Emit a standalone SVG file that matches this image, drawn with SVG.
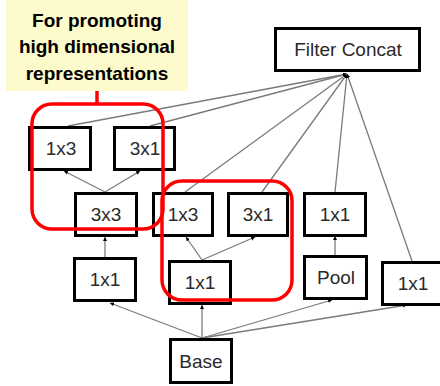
<svg xmlns="http://www.w3.org/2000/svg" width="440" height="386" viewBox="0 0 440 386">
<defs>
<marker id="ah" markerUnits="userSpaceOnUse" markerWidth="5" markerHeight="5" refX="4" refY="2" orient="auto">
<path d="M0,0 L4,2 L0,4 z" fill="#000"/>
</marker>
<style>
.box{fill:#fff;stroke:#000;stroke-width:3}
.lbl{font-family:"Liberation Sans",Arial,sans-serif;font-size:19px;fill:#2a2a2a;text-anchor:middle}
.edge{stroke:#7a7a7a;stroke-width:1.3;fill:none;marker-end:url(#ah)}
.hl{fill:none;stroke:#ff0000;stroke-width:3.5}
.note{font-family:"Liberation Sans",Arial,sans-serif;font-size:19px;font-weight:bold;fill:#000;text-anchor:middle}
</style>
</defs>
<rect width="440" height="386" fill="#fff"/>
<g id="connectors">
<line class="edge" x1="202" y1="338" x2="110" y2="303"/>
<line class="edge" x1="202" y1="338" x2="202" y2="305"/>
<line class="edge" x1="202" y1="338" x2="332" y2="300"/>
<line class="edge" x1="202" y1="338" x2="407" y2="305"/>
<line class="edge" x1="105" y1="257" x2="105" y2="237"/>
<line class="edge" x1="105" y1="192" x2="64" y2="171"/>
<line class="edge" x1="105" y1="192" x2="140" y2="171"/>
<line class="edge" x1="202" y1="260" x2="186" y2="237"/>
<line class="edge" x1="202" y1="260" x2="255" y2="237"/>
<line class="edge" x1="335" y1="255" x2="335" y2="236"/>
<line class="edge" x1="68" y1="126" x2="347" y2="74"/>
<line class="edge" x1="150" y1="126" x2="347" y2="74"/>
<line class="edge" x1="185" y1="192" x2="347" y2="74"/>
<line class="edge" x1="262" y1="192" x2="347" y2="74"/>
<line class="edge" x1="335" y1="192" x2="347" y2="74"/>
<line class="edge" x1="412" y1="261" x2="347" y2="74"/>
</g>
<g id="filter-concat"><rect class="box" x="275.5" y="28.5" width="144" height="42"/><text class="lbl" x="348" y="56">Filter Concat</text></g>
<g id="n-1x3-a"><rect class="box" x="29.5" y="127.5" width="61" height="42"/><text class="lbl" x="61" y="155">1x3</text></g>
<g id="n-3x1-a"><rect class="box" x="114.5" y="127.5" width="60" height="42"/><text class="lbl" x="145" y="155">3x1</text></g>
<g id="n-3x3"><rect class="box" x="75.5" y="193.5" width="61" height="42"/><text class="lbl" x="106" y="221">3x3</text></g>
<g id="n-1x3-b"><rect class="box" x="153.5" y="193.5" width="59" height="42"/><text class="lbl" x="183" y="221">1x3</text></g>
<g id="n-3x1-b"><rect class="box" x="228.5" y="193.5" width="59" height="42"/><text class="lbl" x="258" y="221">3x1</text></g>
<g id="n-1x1-top"><rect class="box" x="304.5" y="193.5" width="61" height="42"/><text class="lbl" x="335" y="221">1x1</text></g>
<g id="n-1x1-left"><rect class="box" x="74.5" y="258.5" width="61" height="42"/><text class="lbl" x="105" y="286">1x1</text></g>
<g id="n-1x1-mid"><rect class="box" x="169.5" y="261.5" width="61" height="42"/><text class="lbl" x="200" y="289">1x1</text></g>
<g id="n-pool"><rect class="box" x="304.5" y="256.5" width="62" height="42"/><text class="lbl" x="336" y="284">Pool</text></g>
<g id="n-1x1-right"><rect class="box" x="382.5" y="262.5" width="64" height="42"/><text class="lbl" x="413" y="290">1x1</text></g>
<g id="n-base"><rect class="box" x="170.5" y="339.5" width="61" height="43"/><text class="lbl" x="201" y="368">Base</text></g>
<g id="highlight-1"><rect class="hl" x="32" y="104" width="131" height="125" rx="20"/></g>
<g id="highlight-2"><rect class="hl" x="162" y="181" width="130" height="119" rx="20"/></g>
<g id="note">
<rect x="6" y="0" width="182" height="91" fill="#fdfbcb"/>
<line x1="97" y1="91" x2="97" y2="104" stroke="#ff0000" stroke-width="3.5"/>
<text class="note" x="97" y="27">For promoting</text>
<text class="note" x="97" y="53">high dimensional</text>
<text class="note" x="97" y="80">representations</text>
</g>
</svg>
